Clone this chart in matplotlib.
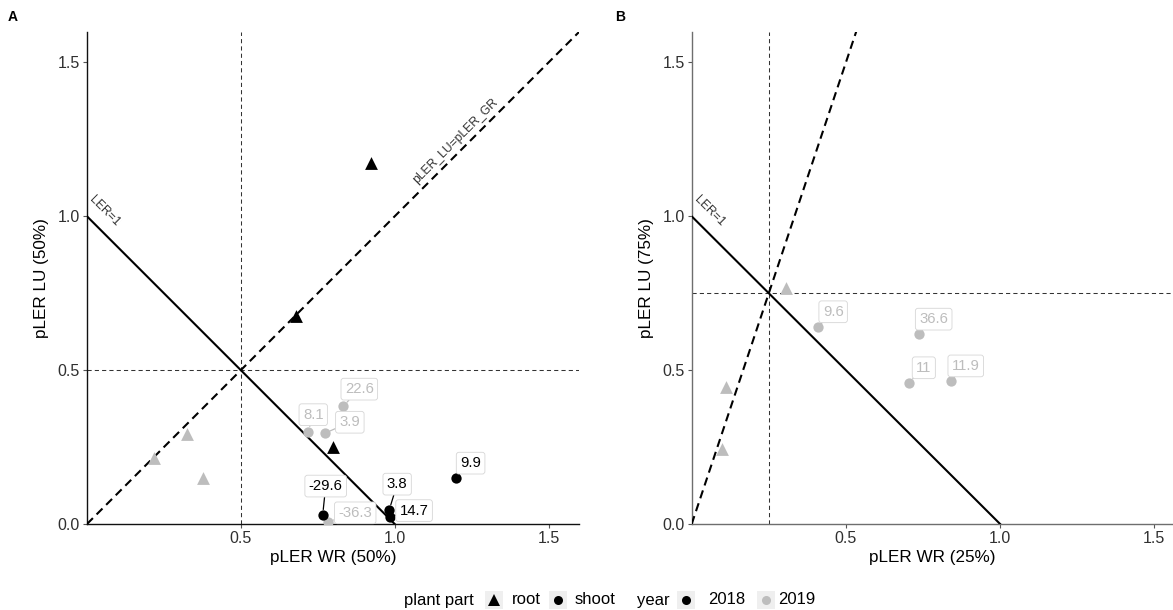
"""Partial LER of the two crop parts against the 1:1 and LER=1 reference lines.

Panel A: equal weighting (50 % / 50 %), panel B: 25 % WR / 75 % LU.
"""

import matplotlib.pyplot as plt
from matplotlib.lines import Line2D
from matplotlib.patches import Rectangle

plt.rcParams["font.family"] = ["Liberation Sans", "DejaVu Sans"]

# ---- data ----------------------------------------------------------------
# panel A (WR 50 %, LU 50 %)
A_ROOT_2018_WR = [0.923, 0.678, 0.800]
A_ROOT_2018_LU = [1.174, 0.676, 0.251]
A_ROOT_2019_WR = [0.324, 0.218, 0.378]
A_ROOT_2019_LU = [0.292, 0.214, 0.149]
A_SHOOT_2018_WR = [0.766, 0.982, 0.985, 1.198]
A_SHOOT_2018_LU = [0.029, 0.045, 0.024, 0.149]
A_SHOOT_2018_LAB = ["-29.6", "3.8", "14.7", "9.9"]
A_SHOOT_2019_WR = [0.833, 0.719, 0.773, 0.784]
A_SHOOT_2019_LU = [0.383, 0.300, 0.295, 0.007]
A_SHOOT_2019_LAB = ["22.6", "8.1", "3.9", "-36.3"]

# panel B (WR 25 %, LU 75 %) - only 2019
B_ROOT_2019_WR = [0.306, 0.111, 0.099]
B_ROOT_2019_LU = [0.768, 0.444, 0.243]
B_SHOOT_2019_WR = [0.410, 0.736, 0.704, 0.840]
B_SHOOT_2019_LU = [0.641, 0.617, 0.459, 0.465]
B_SHOOT_2019_LAB = ["9.6", "36.6", "11", "11.9"]

# label nudges (offset pixels), layout only
A_OFF_2018 = [(3, 29), (8, 26), (24, 6), (15, 15)]
A_OFF_2019 = [(16, 17), (5, 17), (25, 11), (27, 9)]
B_OFF_2019 = [(15, 15), (15, 15), (15, 15), (15, 15)]

C2018 = "#000000"
C2019 = "#bdbdbd"
LBL_EDGE = "#d6d6d6"
TICK_C = "#303030"

W, H = 1173, 610


def add_labels(ax, xs, ys, labels, offsets, color):
    for x, y, lab, off in zip(xs, ys, labels, offsets):
        ax.annotate(
            lab, xy=(x, y), xytext=off, textcoords="offset pixels",
            ha="center", va="center", fontsize=10.7, color=color,
            bbox=dict(boxstyle="round,pad=0.26,rounding_size=0.18",
                      fc="white", ec=LBL_EDGE, lw=0.6),
            arrowprops=dict(arrowstyle="-", color=color, lw=0.9,
                            shrinkA=0, shrinkB=4),
            zorder=5,
        )


def base_axes(ax, xmax, wr_share, lu_share, axis_color):
    ax.set_xlim(0, xmax)
    ax.set_ylim(0, 1.6)
    ax.set_xticks([0.5, 1.0, 1.5])
    ax.set_yticks([0.0, 0.5, 1.0, 1.5])
    ax.set_xticklabels(["0.5", "1.0", "1.5"])
    ax.set_yticklabels(["0.0", "0.5", "1.0", "1.5"])
    for s in ("top", "right"):
        ax.spines[s].set_visible(False)
    for s in ("left", "bottom"):
        ax.spines[s].set_color(axis_color)
        ax.spines[s].set_linewidth(1.0)
    ax.tick_params(length=3, width=0.8, color="#555555", labelsize=11.5,
                   labelcolor=TICK_C, pad=2)

    # LER = 1 line and the crossing reference lines
    ax.plot([0, 1], [1, 0], color="black", lw=1.5, zorder=3)
    ax.axvline(wr_share, color="#333333", lw=0.75, ls=(0, (4, 3)), zorder=2)
    ax.axhline(lu_share, color="#333333", lw=0.75, ls=(0, (4, 3)), zorder=2)
    slope = lu_share / wr_share
    ax.plot([0, 1.6 / slope], [0, 1.6], color="black", lw=1.5,
            ls=(0, (4, 2.5)), zorder=3)
    ax.text(0.056, 1.016, "LER=1", rotation=-45, ha="center", va="center",
            fontsize=8.7, color="#333333")
    ax.set_xlabel(f"pLER WR ({int(wr_share * 100)}%)", fontsize=12.3,
                  labelpad=3)
    ax.set_ylabel(f"pLER LU ({int(lu_share * 100)}%)", fontsize=12.3,
                  labelpad=6)


def draw_points(ax, wr, lu, marker, color):
    size = 85 if marker == "^" else 55
    ax.scatter(wr, lu, marker=marker, s=size, color=color, lw=0, zorder=4)


def legend(fig):
    lax = fig.add_axes([0, 0, 1, 1], zorder=-1)
    lax.set_xlim(0, W)
    lax.set_ylim(H, 0)
    lax.axis("off")
    yc = 600
    fs = 12
    lax.text(404, yc, "plant part", fontsize=fs, va="center", ha="left")
    lax.text(637, yc, "year", fontsize=fs, va="center", ha="left")
    keys = [
        (494, "^", "black", 512, "root"),
        (558, "o", "black", 575, "shoot"),
        (686, "o", C2018, 708, "2018"),
        (766, "o", C2019, 778, "2019"),
    ]
    for kx, mk, col, tx, lab in keys:
        lax.add_patch(Rectangle((kx - 9, yc - 9), 18, 18,
                                fc="#efefef", ec="none"))
        lax.add_line(Line2D([kx], [yc], marker=mk, color=col, ls="none",
                            markersize=8 if mk == "^" else 6.5, mew=0))
        lax.text(tx, yc, lab, fontsize=fs, va="center", ha="left")


def main():
    fig = plt.figure(figsize=(W / 100, H / 100), dpi=100)
    ax_a = fig.add_axes([87 / W, 86 / H, 492.3 / W, 492.3 / H])
    ax_b = fig.add_axes([691.7 / W, 86 / H, (W - 691.7) / W, 492.3 / H])

    base_axes(ax_a, 1.6, 0.5, 0.5, "#111111")
    ax_a.text(1.197, 1.245, "pLER_LU=pLER_GR", rotation=45, ha="center",
              va="center", fontsize=8.7, color="#333333")
    draw_points(ax_a, A_ROOT_2019_WR, A_ROOT_2019_LU, "^", C2019)
    draw_points(ax_a, A_SHOOT_2019_WR, A_SHOOT_2019_LU, "o", C2019)
    draw_points(ax_a, A_ROOT_2018_WR, A_ROOT_2018_LU, "^", C2018)
    draw_points(ax_a, A_SHOOT_2018_WR, A_SHOOT_2018_LU, "o", C2018)
    add_labels(ax_a, A_SHOOT_2019_WR, A_SHOOT_2019_LU, A_SHOOT_2019_LAB,
               A_OFF_2019, C2019)
    add_labels(ax_a, A_SHOOT_2018_WR, A_SHOOT_2018_LU, A_SHOOT_2018_LAB,
               A_OFF_2018, C2018)

    base_axes(ax_b, (W - 691.7) / 308.4, 0.25, 0.75, "#6e6e6e")
    draw_points(ax_b, B_ROOT_2019_WR, B_ROOT_2019_LU, "^", C2019)
    draw_points(ax_b, B_SHOOT_2019_WR, B_SHOOT_2019_LU, "o", C2019)
    add_labels(ax_b, B_SHOOT_2019_WR, B_SHOOT_2019_LU, B_SHOOT_2019_LAB,
               B_OFF_2019, C2019)

    fig.text(13 / W, 1 - 17 / H, "A", fontsize=10, fontweight="bold",
             ha="center", va="center")
    fig.text(620 / W, 1 - 17 / H, "B", fontsize=10, fontweight="bold",
             ha="center", va="center")
    legend(fig)

    fig.savefig("out.png", dpi=100)
    plt.close(fig)


if __name__ == "__main__":
    main()
